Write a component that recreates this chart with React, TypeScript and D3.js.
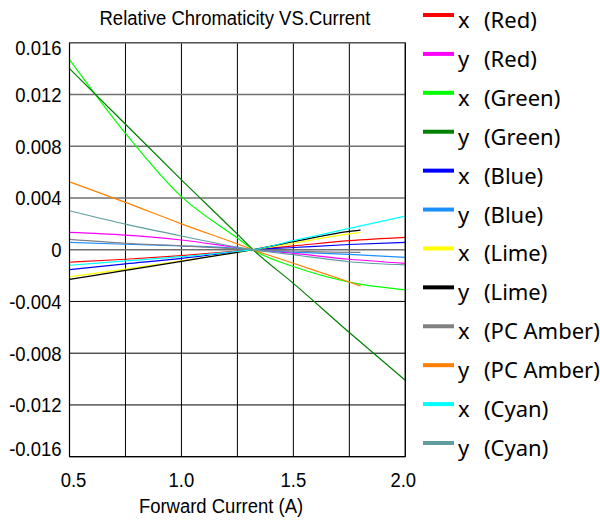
import React from "react";
import * as d3 from "d3";

// ---- data ----
const currents = [0.5, 0.75, 1.0, 1.25, 1.32, 1.5, 1.75, 2.0];
const currentsShort = [0.5, 0.75, 1.0, 1.25, 1.32, 1.5, 1.75, 1.8];

const redX = [-0.00097, -0.00074, -0.00046, -0.0001, 0, 0.00029, 0.0007, 0.00096];
const redY = [0.00134, 0.00113, 0.00075, 0.00016, 0, -0.00028, -0.00074, -0.00105];
const greenX = [0.0147, 0.009, 0.0041, 0.0009, 0, -0.0013, -0.0025, -0.0031];
const greenY = [0.014, 0.0097, 0.0054, 0.0012, 0, -0.0026, -0.0064, -0.0101];
const blueX = [-0.00154, -0.0011, -0.00067, -0.00015, 0, 0.00017, 0.0004, 0.00057];
const blueY = [0.00057, 0.00042, 0.0003, 0.0001, 0, -0.00018, -0.00036, -0.00059];
const limeX = [-0.0021, -0.0015, -0.00087, -0.0002, 0, 0.0005, 0.00122, 0.00133];
const limeY = [-0.0023, -0.0016, -0.0009, -0.0002, 0, 0.00062, 0.00142, 0.00152];
const amberX = [0.0008, 0.0005, 0.0003, 0.00006, 0, -0.0001, -0.0002, -0.0002];
const amberY = [0.00525, 0.00366, 0.002, 0.00045, 0, -0.00105, -0.0025, -0.0028];
const cyanX = [-0.0012, -0.00087, -0.00054, -0.00012, 0, 0.0007, 0.00165, 0.0026];
const cyanY = [0.00301, 0.00198, 0.00106, 0.0002, 0, -0.00039, -0.00093, -0.00118];

const seriesCoord = ["x", "y", "x", "y", "x", "y", "x", "y", "x", "y", "x", "y"];
const seriesName = ["(Red)", "(Red)", "(Green)", "(Green)", "(Blue)", "(Blue)", "(Lime)", "(Lime)", "(PC Amber)", "(PC Amber)", "(Cyan)", "(Cyan)"];
const seriesValues = [redX, redY, greenX, greenY, blueX, blueY, limeX, limeY, amberX, amberY, cyanX, cyanY];
const seriesCurrents = [currents, currents, currents, currents, currents, currents, currentsShort, currentsShort, currentsShort, currentsShort, currents, currents];
const seriesColor = ["#ff0000", "#ff00ff", "#00ff00", "#008000", "#0000ff", "#1e8fff", "#ffff00", "#000000", "#808080", "#ff8000", "#00ffff", "#5f9ea0"];

const yTicks = [0.016, 0.012, 0.008, 0.004, 0, -0.004, -0.008, -0.012, -0.016];
const yTickLabels = ["0.016", "0.012", "0.008", "0.004", "0", "-0.004", "-0.008", "-0.012", "-0.016"];
const xGrid = [0.5, 0.75, 1.0, 1.25, 1.5, 1.75, 2.0];
const xTicks = [0.5, 1.0, 1.5, 2.0];
const xTickLabels = ["0.5", "1.0", "1.5", "2.0"];

const title = "Relative Chromaticity VS.Current";
const xTitle = "Forward Current (A)";

// ---- layout ----
const W = 600;
const H = 524;
const L = 69.5;
const R = 405.3;
const T = 42.7;
const B = 456.7;
const SQ = 0.88;
const FONT = "'Liberation Sans', Arial, sans-serif";
const LFONT = "'Noto Sans', 'Open Sans', sans-serif";

function SqText(props: { x: number; y: number; anchor?: string; size?: number; children: React.ReactNode }) {
  const { x, y, anchor = "start", size = 21, children } = props;
  return (
    <text
      transform={`translate(${x},${y}) scale(${SQ},1)`}
      textAnchor={anchor as any}
      fontSize={size}
      fontFamily={FONT}
      fill="#000"
    >
      {children}
    </text>
  );
}

export default function App() {
  const x = d3.scaleLinear().domain([0.5, 2.0]).range([L, R]);
  const y = d3.scaleLinear().domain([-0.016, 0.016]).range([B, T]);
  const legendY = d3.scaleLinear().domain([0, 11]).range([15, 443]);

  const line = (xs: number[], vs: number[]) =>
    d3
      .line<number>()
      .x((_, i) => x(xs[i]))
      .y((v) => y(v))
      .curve(d3.curveMonotoneX)(vs) || "";

  return (
    <svg
      width={W}
      height={H}
      viewBox={`0 0 ${W} ${H}`}
      style={{ position: "absolute", left: 0, top: 0, display: "block", background: "#fff" }}
    >
      <rect x={0} y={0} width={W} height={H} fill="#fff" />
      {/* vertical grid */}
      {xGrid.map((g) => (
        <line key={"vx" + g} x1={x(g)} x2={x(g)} y1={T} y2={B} stroke="#000" strokeWidth={1} />
      ))}
      {/* horizontal grid */}
      {yTicks.map((t) => (
        <line
          key={"hy" + t}
          x1={L}
          x2={R}
          y1={y(t)}
          y2={y(t)}
          stroke={t >= 0 ? "#707070" : "#000"}
          strokeWidth={t >= 0 ? 1.5 : 1}
        />
      ))}
      {/* series */}
      <g clipPath="url(#clip)">
        {seriesValues.map((vs, i) => (
          <path key={"s" + i} d={line(seriesCurrents[i], vs)} fill="none" stroke={seriesColor[i]} strokeWidth={1.2} />
        ))}
      </g>
      <defs>
        <clipPath id="clip">
          <rect x={L} y={T} width={R - L} height={B - T} />
        </clipPath>
      </defs>
      {/* border */}
      <line x1={L} x2={R} y1={B} y2={B} stroke="#000" strokeWidth={1.2} />
      <line x1={L} x2={L} y1={T} y2={B} stroke="#000" strokeWidth={1.2} />
      <line x1={R} x2={R} y1={T} y2={B} stroke="#000" strokeWidth={1.2} />
      <line x1={L} x2={R} y1={T} y2={T} stroke="#555" strokeWidth={1.2} />

      {/* y tick labels */}
      {yTicks.map((t, i) => {
        const cy = Math.min(Math.max(y(t), T + 5), B - 8.5);
        return (
          <SqText key={"yl" + t} x={61.5} y={cy + 7.5} anchor="end">
            {yTickLabels[i]}
          </SqText>
        );
      })}
      {/* x tick labels */}
      {xTicks.map((t, i) => {
        const cx = Math.min(Math.max(x(t), L + 4), R - 2);
        return (
          <SqText key={"xl" + t} x={cx} y={486.7} anchor="middle">
            {xTickLabels[i]}
          </SqText>
        );
      })}
      {/* titles */}
      <SqText x={235} y={25} anchor="middle" size={21}>
        {title}
      </SqText>
      <SqText x={221} y={513} anchor="middle" size={21}>
        {xTitle}
      </SqText>

      {/* legend */}
      {seriesName.map((n, i) => {
        const ly = legendY(i);
        return (
          <g key={"lg" + i}>
            <line x1={423} x2={454} y1={ly} y2={ly} stroke={seriesColor[i]} strokeWidth={4} />
            <text x={458} y={ly + 13} fontFamily={LFONT} fontSize={22} fill="#000">
              {seriesCoord[i]}
            </text>
            <text x={484} y={ly + 13} fontFamily={LFONT} fontSize={22} fill="#000">
              {n}
            </text>
          </g>
        );
      })}
    </svg>
  );
}
